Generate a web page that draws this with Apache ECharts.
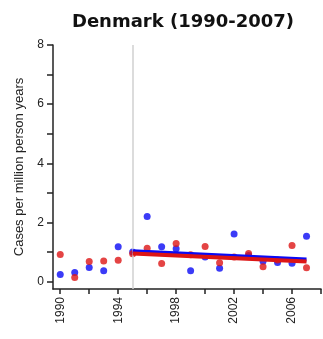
<!DOCTYPE html>
<html><head><meta charset="utf-8">
<script src="https://cdn.jsdelivr.net/npm/echarts@6/dist/echarts.min.js"></script>
<style>html,body{margin:0;padding:0;background:#fff}#c{width:323px;height:339px}</style>
</head><body><div id="c"></div>
<script>
const years = [1990,1991,1992,1993,1994,1995,1996,1997,1998,1999,2000,2001,2002,2003,2004,2005,2006,2007];
const blueValues = [0.24,0.31,0.48,0.37,1.18,1.00,2.20,1.18,1.11,0.37,0.83,0.45,1.61,0.88,0.69,0.65,0.62,1.53];
const redValues  = [0.92,0.14,0.68,0.70,0.72,0.94,1.13,0.61,1.29,0.91,1.19,0.64,0.83,0.95,0.50,0.73,1.22,0.47];
const blueTrend = [[1995,1.03],[2007,0.75]];
const redTrend  = [[1995,0.95],[2007,0.68]];
const xTickStep = 2, xLabelStep = 4, xFirst = 1990, xLast = 2008;
const yTickStep = 1, yLabelStep = 2, yFirst = 0, yLast = 8;
const breakYear = 1995;
const xPad = 0.5, yPad = 0.25;

// layout of data grid
const W = 323, H = 339, gl = 53, gr = 2, gt = 45, gb = 50;
const gw = W - gl - gr, gh = H - gt - gb;
const xMin = xFirst - xPad, yMin = yFirst - yPad;
const pxX = gw / (xLast - xMin), pxY = gh / (yLast - yMin);
const offX = xPad * pxX, offY = yPad * pxY;

const font = 'Liberation Sans';
const chart = echarts.init(document.getElementById('c'), null, {renderer:'canvas'});
const pts = v => years.map((y,i)=>[y,v[i]]);
chart.setOption({
  animation:false,
  title:{text:'Denmark (1990-2007)', left:178, top:8, textAlign:'center',
    textStyle:{fontFamily:'DejaVu Sans', fontWeight:'bold', fontSize:18, color:'#111'}},
  grid:[
    {left:gl, right:gr, top:gt, bottom:gb},
    {left:gl+offX, right:gr, top:gt, bottom:gb+offY}
  ],
  xAxis:[
    {gridIndex:0, type:'value', min:xMin, max:xLast,
     axisLine:{show:true, onZero:false, lineStyle:{color:'#222', width:1.5}},
     axisTick:{show:false}, axisLabel:{show:false}, splitLine:{show:false}},
    {gridIndex:1, type:'value', min:xFirst, max:xLast, interval:xTickStep, offset:offY,
     axisLine:{show:false, onZero:false},
     axisTick:{show:true, length:5, lineStyle:{color:'#222', width:1.5}},
     axisLabel:{rotate:90, margin:8, fontFamily:font, fontSize:12, color:'#222',
       formatter:v => ((v - xFirst) % xLabelStep === 0 ? String(v) : '')},
     splitLine:{show:false}}
  ],
  yAxis:[
    {gridIndex:0, type:'value', min:yMin, max:yLast,
     name:'Cases per million person years', nameLocation:'middle', nameGap:27, nameRotate:90,
     nameTextStyle:{fontFamily:font, fontSize:13, color:'#222'},
     axisLine:{show:true, onZero:false, lineStyle:{color:'#222', width:1.5}},
     axisTick:{show:false}, axisLabel:{show:false}, splitLine:{show:false}},
    {gridIndex:1, type:'value', min:yFirst, max:yLast, interval:yTickStep, offset:offX,
     axisLine:{show:false, onZero:false},
     axisTick:{show:true, length:6, lineStyle:{color:'#222', width:1.5}},
     axisLabel:{margin:9, fontFamily:font, fontSize:12, color:'#222',
       formatter:v => ((v - yFirst) % yLabelStep === 0 ? String(v) : '')},
     splitLine:{show:false}}
  ],
  series:[
    {type:'scatter', xAxisIndex:0, yAxisIndex:0, data:pts(blueValues), symbolSize:7, itemStyle:{color:'#0a0af5'}, z:3,
     markLine:{silent:true, symbol:'none', label:{show:false}, lineStyle:{color:'#d0d0d0', width:1.5, type:'solid'},
       data:[{xAxis:breakYear}]}},
    {type:'scatter', xAxisIndex:0, yAxisIndex:0, data:pts(redValues), symbolSize:7, itemStyle:{color:'#dd1515'}, z:4},
    {type:'line', xAxisIndex:0, yAxisIndex:0, data:blueTrend, showSymbol:false, lineStyle:{color:'#0a0af5', width:4}, z:5},
    {type:'line', xAxisIndex:0, yAxisIndex:0, data:redTrend, showSymbol:false, lineStyle:{color:'#dd1515', width:4}, z:6}
  ]
});
</script></body></html>
